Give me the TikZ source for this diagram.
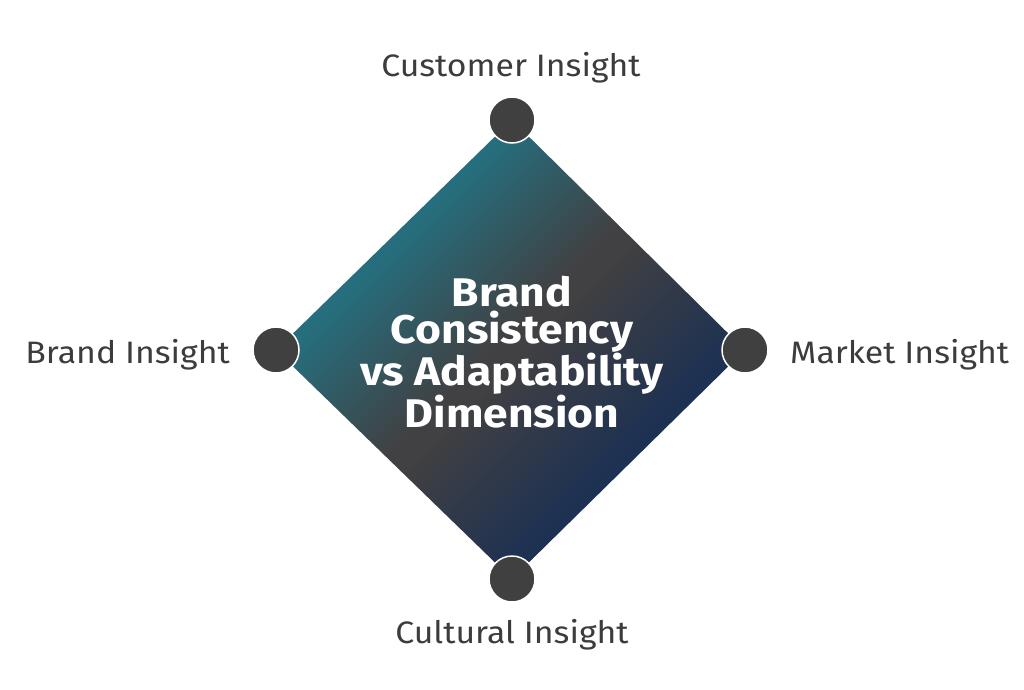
\documentclass[tikz,border=0pt]{standalone}
\usepackage{fontspec}
\setmainfont{Fira Sans}
\newfontfamily\labfont[FakeStretch=1.09]{Fira Sans}
\newfontfamily\titfont[FakeStretch=1.11]{Fira Sans}
\definecolor{teal1}{HTML}{266E7D}
\definecolor{grayc}{HTML}{414042}
\definecolor{navy1}{HTML}{1D3152}
\definecolor{dotc}{HTML}{404040}
\definecolor{labc}{HTML}{3C3C3C}
\pgfdeclareverticalshading{diagshade}{100bp}{color(0bp)=(navy1); color(33bp)=(navy1); color(49bp)=(grayc); color(51bp)=(grayc); color(67bp)=(teal1); color(100bp)=(teal1)}
\tikzset{
  dot/.style={circle,fill=dotc,draw=white,line width=1.5pt,minimum size=46pt,inner sep=0pt},
  lab/.style={text=labc,font=\labfont\fontsize{31}{36}\selectfont,inner sep=0pt},
  title/.style={text=white,font=\titfont\bfseries\fontsize{40}{37}\selectfont,align=center,inner sep=0pt}
}
\begin{document}
\begin{tikzpicture}[x=1pt,y=-1pt]
\useasboundingbox (0,0) rectangle (1024,689);
\coordinate (T) at (512,120);
\coordinate (R) at (745,350);
\coordinate (B) at (512,579);
\coordinate (L) at (276,350);
\shade[shading=diagshade,shading angle=45]
  (T) -- (R) -- (B) -- (L) -- cycle;
\node[dot] (top) at (T) {};
\node[dot] (right) at (R) {};
\node[dot] (bottom) at (B) {};
\node[dot] (left) at (L) {};
\node[title] (center) at (512,352) {Brand\\Consistency\\vs Adaptability\\Dimension};
\node[lab,anchor=base] (ci) at (511,76) {Customer Insight};
\node[lab,anchor=base east] (bi) at (230,363) {Brand Insight};
\node[lab,anchor=base west] (mi) at (790,363) {Market Insight};
\node[lab,anchor=base] (cu) at (512,643) {Cultural Insight};
\end{tikzpicture}
\end{document}
